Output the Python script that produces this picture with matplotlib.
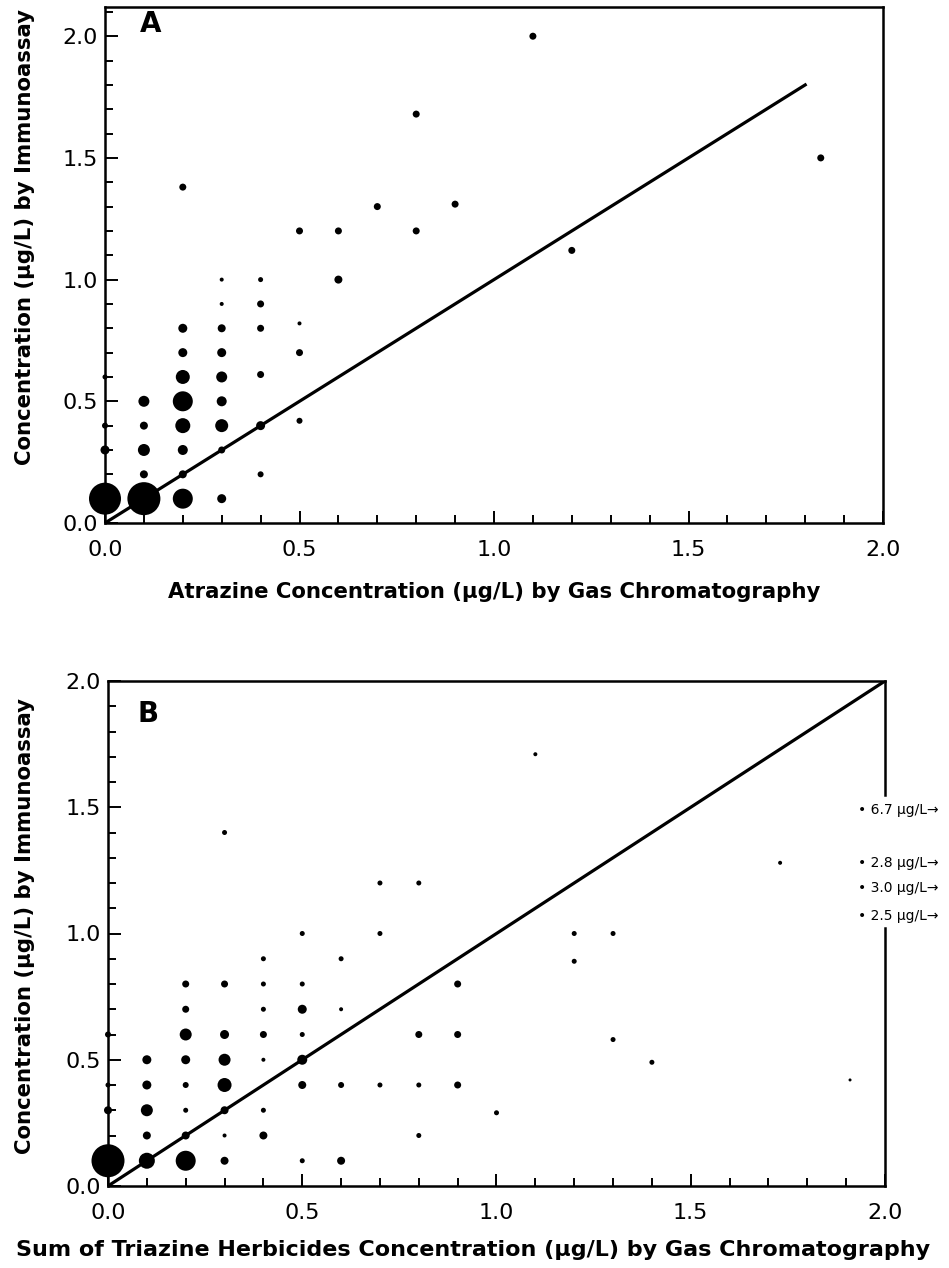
### immunoassay vs gas chromatography, two bubble scatter panels

import matplotlib
import matplotlib.pyplot as plt
import matplotlib.transforms as mtransforms
from matplotlib.ticker import MultipleLocator

matplotlib.use("Agg")

# panel A: atrazine by GC (x) vs immunoassay (y); w = symbol weight (diameter, px)
a_x = [0.0, 0.1, 0.2, 0.3, 0.0, 0.1, 0.2, 0.4, 0.1, 0.2, 0.3,
       0.0, 0.1, 0.2, 0.3, 0.4, 0.5, 0.1, 0.2, 0.3, 0.0, 0.2, 0.3, 0.4,
       0.2, 0.3, 0.5, 0.2, 0.3, 0.4, 0.5, 0.3, 0.4, 0.3, 0.4, 0.6,
       0.5, 0.6, 0.8, 0.7, 0.9, 0.2, 0.8, 1.1, 1.2, 1.84]
a_y = [0.1, 0.1, 0.1, 0.1, 0.3, 0.2, 0.2, 0.2, 0.3, 0.3, 0.3,
       0.4, 0.4, 0.4, 0.4, 0.4, 0.42, 0.5, 0.5, 0.5, 0.6, 0.6, 0.6, 0.61,
       0.7, 0.7, 0.7, 0.8, 0.8, 0.8, 0.82, 0.9, 0.9, 1.0, 1.0, 1.0,
       1.2, 1.2, 1.2, 1.3, 1.31, 1.38, 1.68, 2.0, 1.12, 1.5]
a_w = [32, 33, 20, 9, 9, 8, 8, 6, 12, 10, 7,
       6, 8, 15, 13, 9, 6, 11, 20, 10, 5, 14, 11, 7,
       9, 9, 7, 9, 8, 7, 4, 4, 7, 4, 5, 8,
       7, 7, 7, 7, 7, 7, 7, 7, 7, 7]

# panel B: sum of triazine herbicides by GC (x) vs immunoassay (y)
b_x = [0.0, 0.1, 0.2, 0.3, 0.5, 0.6,
       0.1, 0.2, 0.3, 0.4, 0.8,
       0.0, 0.1, 0.2, 0.3, 0.4, 1.0,
       0.0, 0.1, 0.2, 0.3, 0.5, 0.6, 0.7, 0.8, 0.9,
       0.1, 0.2, 0.3, 0.4, 0.5, 1.4,
       0.0, 0.2, 0.3, 0.4, 0.5, 0.8, 0.9, 1.3,
       0.2, 0.4, 0.5, 0.6,
       0.2, 0.3, 0.4, 0.5, 0.9,
       0.4, 0.6, 1.2,
       0.5, 0.7, 1.2, 1.3,
       0.7, 0.8,
       0.3, 1.1, 1.73, 1.91]
b_y = [0.1, 0.1, 0.1, 0.1, 0.1, 0.1,
       0.2, 0.2, 0.2, 0.2, 0.2,
       0.3, 0.3, 0.3, 0.3, 0.3, 0.29,
       0.4, 0.4, 0.4, 0.4, 0.4, 0.4, 0.4, 0.4, 0.4,
       0.5, 0.5, 0.5, 0.5, 0.5, 0.49,
       0.6, 0.6, 0.6, 0.6, 0.6, 0.6, 0.6, 0.58,
       0.7, 0.7, 0.7, 0.7,
       0.8, 0.8, 0.8, 0.8, 0.8,
       0.9, 0.9, 0.89,
       1.0, 1.0, 1.0, 1.0,
       1.2, 1.2,
       1.4, 1.71, 1.28, 0.42]
b_w = [33, 16, 20, 8, 5, 8,
       8, 8, 4, 8, 5,
       8, 12, 5, 8, 5, 5,
       5, 9, 6, 14, 8, 6, 5, 5, 7,
       9, 9, 12, 4, 10, 5,
       6, 12, 9, 7, 5, 7, 7, 5,
       7, 5, 9, 4,
       7, 7, 5, 5, 7,
       5, 5, 5,
       5, 5, 5, 5,
       5, 5,
       5, 4, 4, 3]

# off-scale samples in panel B (GC value, immunoassay value)
off_gc = [6.7, 2.8, 3.0, 2.5]
off_ia = [1.49, 1.28, 1.18, 1.07]

ylabel = "Concentration (\u00b5g/L) by Immunoassay"
xlabel_a = "Atrazine Concentration (\u00b5g/L) by Gas Chromatography"
xlabel_b = "Sum of Triazine Herbicides Concentration (\u00b5g/L) by Gas Chromatography"

W, H = 949, 1268
fig = plt.figure(figsize=(W / 100, H / 100), dpi=100)


def px_axes(l, t, r, b):
    return fig.add_axes([l / W, 1 - b / H, (r - l) / W, (b - t) / H])


def style(ax, ymax):
    ax.set_xlim(0, 2.0)
    ax.set_ylim(0, ymax)
    ax.xaxis.set_major_locator(MultipleLocator(0.5))
    ax.xaxis.set_minor_locator(MultipleLocator(0.1))
    ax.yaxis.set_major_locator(MultipleLocator(0.5))
    ax.yaxis.set_minor_locator(MultipleLocator(0.1))
    ax.xaxis.set_major_formatter(lambda v, p: f"{v:.1f}")
    ax.yaxis.set_major_formatter(lambda v, p: f"{v:.1f}")
    ax.tick_params(which="both", direction="in", width=1.4, color="black")
    ax.tick_params(which="major", length=9)
    ax.tick_params(which="minor", length=6)
    ax.tick_params(axis="x", which="major", pad=12, labelsize=16)
    ax.tick_params(axis="y", which="major", pad=5, labelsize=16)
    for s in ax.spines.values():
        s.set_linewidth(1.8)


def bubbles(ax, x, y, w):
    s = [(d * 0.72) ** 2 for d in w]
    ax.scatter(x, y, s=s, c="black", edgecolors="none", clip_on=False, zorder=3)


# ---- panel A
ax1 = px_axes(105, 7, 883, 523)
style(ax1, 2.12)
ax1.plot([0, 1.8], [0, 1.8], color="black", lw=2.3, zorder=2)
bubbles(ax1, a_x, a_y, a_w)
ax1.text(0.116, 2.05, "A", fontsize=20, fontweight="bold", ha="center", va="center")
ax1.set_xlabel(xlabel_a, fontsize=15.3, fontweight="bold")
ax1.set_ylabel(ylabel, fontsize=15.3, fontweight="bold")
ax1.xaxis.set_label_coords(0.5, -0.134)
ax1.xaxis.label.set_va("center")
ax1.yaxis.set_label_coords(-0.103, 0.555)
ax1.yaxis.label.set_va("center")

# ---- panel B
ax2 = px_axes(108, 681, 885, 1186)
style(ax2, 2.0)
ax2.plot([0, 2.0], [0, 2.0], color="black", lw=2.3, zorder=2)
bubbles(ax2, b_x, b_y, b_w)
ax2.text(0.103, 1.87, "B", fontsize=20, fontweight="bold", ha="center", va="center")
ax2.set_xlabel(xlabel_b, fontsize=16, fontweight="bold")
ax2.set_ylabel(ylabel, fontsize=15.3, fontweight="bold")
ax2.xaxis.set_label_coords(0.47, -0.127)
ax2.xaxis.label.set_va("center")
ax2.yaxis.set_label_coords(-0.107, 0.515)
ax2.yaxis.label.set_va("center")

# broken right spine with off-scale annotations
ax2.spines["right"].set_visible(False)
rtrans = mtransforms.blended_transform_factory(ax2.transAxes, ax2.transData)
ax2.plot([1, 1], [2.0, 1.55], transform=rtrans, color="black", lw=1.8, clip_on=False)
ax2.plot([1, 1], [1.02, 0.0], transform=rtrans, color="black", lw=1.8, clip_on=False)
for gc, ia in zip(off_gc, off_ia):
    ax2.text(1.93, ia, f"\u2022 {gc:.1f} \u00b5g/L\u2192", fontsize=10,
             ha="left", va="center", clip_on=False)

plt.savefig("out.png", dpi=100)
plt.close("all")
